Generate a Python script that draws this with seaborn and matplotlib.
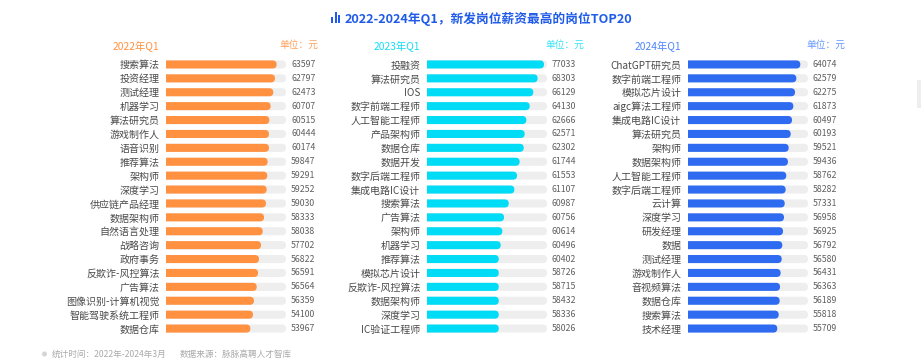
import matplotlib
matplotlib.use("Agg")
import matplotlib.pyplot as plt
import seaborn as sns
from matplotlib.patches import FancyBboxPatch, Rectangle, Ellipse

titulli = "2022-2024年Q1，新发岗位薪资最高的岗位TOP20"
shenimi_1 = "统计时间：2022年-2024年3月"
shenimi_2 = "数据来源：脉脉高聘人才智库"
njesia = "单位：元"

vitet = ["2022年Q1", "2023年Q1", "2024年Q1"]
ngjyrat = ["#FF9140", "#00DCF5", "#2F6BF0"]
ngjyrat_koka = ["#FF9140", "#12DDF5", "#4C85FF"]

pozicionet_2022 = ["搜索算法", "投资经理", "测试经理", "机器学习", "算法研究员", "游戏制作人", "语音识别",
                   "推荐算法", "架构师", "深度学习", "供应链产品经理", "数据架构师", "自然语言处理", "战略咨询",
                   "政府事务", "反欺诈-风控算法", "广告算法", "图像识别-计算机视觉", "智能驾驶系统工程师", "数据仓库"]
pagat_2022 = [63597, 62797, 62473, 60707, 60515, 60444, 60174, 59847, 59291, 59252,
              59030, 58333, 58038, 57702, 56822, 56591, 56564, 56359, 54100, 53967]
# gjatesia e shiritit ne % te sfondit, e lexuar nga figura (nuk eshte lineare me pagen)
gjatesia_2022 = [92.2, 90.8, 89.4, 87.2, 86.1, 85.8, 85.8, 84.7, 84.4, 83.9,
                 83.3, 81.7, 80.6, 79.2, 77.5, 76.7, 75.6, 73.3, 72.5, 70.3]

pozicionet_2023 = ["投融资", "算法研究员", "IOS", "数字前端工程师", "人工智能工程师", "产品架构师", "数据仓库",
                   "数据开发", "数字后端工程师", "集成电路IC设计", "搜索算法", "广告算法", "架构师", "机器学习",
                   "推荐算法", "模拟芯片设计", "反欺诈-风控算法", "数据架构师", "深度学习", "IC验证工程师"]
pagat_2023 = [77033, 68303, 66129, 64130, 62666, 62571, 62302, 61744, 61553, 61107,
              60987, 60756, 60614, 60496, 60402, 58726, 58715, 58432, 58336, 58026]
gjatesia_2023 = [97.5, 92.2, 88.6, 85.6, 82.8, 81.4, 80.6, 77.2, 75.0, 72.8,
                 68.1, 64.2, 62.8, 61.4, 59.8, 59.8, 59.8, 59.8, 59.8, 59.8]

pozicionet_2024 = ["ChatGPT研究员", "数字前端工程师", "模拟芯片设计", "aigc算法工程师", "集成电路IC设计", "算法研究员",
                   "架构师", "数据架构师", "人工智能工程师", "数字后端工程师", "云计算", "深度学习", "研发经理",
                   "数据", "测试经理", "游戏制作人", "音视频算法", "数据仓库", "搜索算法", "技术经理"]
pagat_2024 = [64074, 62579, 62275, 61873, 60497, 60193, 59521, 59436, 58762, 58282,
              57331, 56958, 56925, 56792, 56580, 56431, 56363, 56189, 55818, 55709]
gjatesia_2024 = [93.6, 90.3, 89.2, 87.8, 86.7, 85.6, 83.9, 83.3, 81.9, 81.4,
                 80.6, 80.0, 79.2, 78.6, 78.1, 77.2, 76.7, 76.4, 75.6, 74.4]

sfondi = [100] * 20

W, H = 924, 364
sns.set_theme(style="white")
plt.rcParams["font.family"] = ["Noto Sans CJK SC", "DejaVu Sans"]
fig = plt.figure(figsize=(W / 100, H / 100), dpi=100, facecolor="white")


def px(x, y):
    # piksel -> koordinata te figures
    return x / W, 1 - y / H


def rrumbullako(ax, patches, ngjyra, zorder):
    # Zevendeson shiritat me kende te rrumbullakuara, fillimi pritet nga aksi
    bbox = ax.get_position()
    kx = bbox.width * W / 100
    ky = bbox.height * H / 20
    for p in patches:
        x, y, w, h = p.get_x(), p.get_y(), p.get_width(), p.get_height()
        r = h * ky / 2 / kx
        p.remove()
        ax.add_patch(FancyBboxPatch((x - r, y), w + r, h, boxstyle=f"round,pad=0,rounding_size={r}",
                                    mutation_aspect=kx / ky, facecolor=ngjyra, edgecolor="none", zorder=zorder))


def vizato_panel(x0, pozicionet, pagat, gjatesia, ngjyra, koka, ngjyra_koka, njesia_x):
    ax = fig.add_axes([x0 / W, 1 - 335.5 / H, 120 / W, 278 / H])
    sns.barplot(x=sfondi, y=pozicionet, color="#EEEEEE", saturation=1, width=0.58, ax=ax)
    sns.barplot(x=gjatesia, y=pozicionet, color=ngjyra, saturation=1, width=0.58, ax=ax)
    ax.set_xlim(0, 100)
    ax.set_ylim(19.5, -0.5)
    ax.bar_label(ax.containers[0], labels=[str(v) for v in pagat], padding=3.6, fontsize=6.3, color="#5F5F5F")
    sfond_p, shirit_p = list(ax.containers[0]), list(ax.containers[1])
    rrumbullako(ax, sfond_p, "#EEEEEE", 2)
    rrumbullako(ax, shirit_p, ngjyra, 3)
    ax.set_xticks([])
    ax.set_xlabel("")
    ax.set_ylabel("")
    ax.tick_params(axis="y", length=0, pad=4.7, labelsize=7.2, labelcolor="#4A4A4A")
    sns.despine(ax=ax, left=True, bottom=True)
    ax.patch.set_alpha(0)
    fig.text(*px(x0 - 7, 46), koka, ha="right", va="center", fontsize=7.4, color=ngjyra_koka)
    fig.text(*px(njesia_x, 45), njesia, ha="left", va="center", fontsize=7.0, color=ngjyra_koka, alpha=0.85)


vizato_panel(166, pozicionet_2022, pagat_2022, gjatesia_2022, ngjyrat[0], vitet[0], ngjyrat_koka[0], 279)
vizato_panel(427, pozicionet_2023, pagat_2023, gjatesia_2023, ngjyrat[1], vitet[1], ngjyrat_koka[1], 545)
vizato_panel(688, pozicionet_2024, pagat_2024, gjatesia_2024, ngjyrat[2], vitet[2], ngjyrat_koka[2], 806)

# Titulli dhe ikona
fig.text(*px(345, 18.5), titulli, ha="left", va="center", fontsize=9.15, fontweight="bold", color="#1F5BE8")
for xi, yi in [(331, 17), (334.5, 12.5), (338, 15)]:
    x_f, y_f = px(xi, 23)
    fig.add_artist(Rectangle((x_f, y_f), 2 / W, (23 - yi) / H, transform=fig.transFigure,
                             facecolor="#1F5BE8", edgecolor="none"))

# Shenimi poshte
x_f, y_f = px(44.5, 354)
fig.add_artist(Ellipse((x_f, y_f), 5 / W, 5 / H, transform=fig.transFigure, facecolor="#D5D5D5", edgecolor="none"))
fig.text(*px(52, 354), shenimi_1, ha="left", va="center", fontsize=6.2, color="#AAAAAA")
fig.text(*px(180, 354), shenimi_2, ha="left", va="center", fontsize=6.2, color="#AAAAAA")

# Shiriti i levizjes ne te djathte
x_f, y_f = px(917, 108)
fig.add_artist(Rectangle((x_f, y_f), 4 / W, 28 / H, transform=fig.transFigure, facecolor="#EEEEEE", edgecolor="none"))

fig.savefig("out.png", dpi=100)
